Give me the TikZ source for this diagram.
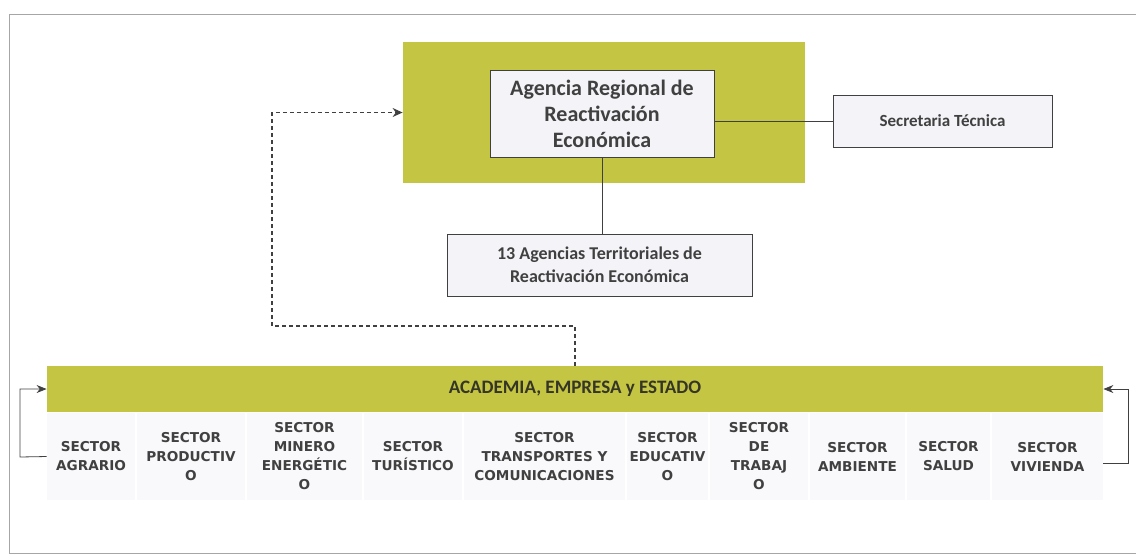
\documentclass[tikz,border=0pt]{standalone}
\usepackage{fontspec}
\setmainfont{Carlito}
\newfontfamily\sectorfont{DejaVu Sans}
\usepackage{tikz}
\usetikzlibrary{arrows.meta}

\definecolor{olive}{RGB}{197,197,68}
\definecolor{boxfill}{RGB}{243,243,248}
\definecolor{textgray}{RGB}{64,64,64}
\definecolor{cellfill}{RGB}{249,249,251}

\begin{document}
\begin{tikzpicture}[x=0.5pt,y=-0.5pt]
\useasboundingbox (0,0) rectangle (1136,559);

% Define box styles
\tikzstyle{orgbox} = [draw=textgray, fill=boxfill, thin, rectangle,
    align=center, text=textgray, inner sep=2pt]
\tikzstyle{regionbox} = [fill=olive, rectangle, inner sep=0pt]
\tikzstyle{sectorcell} = [fill=cellfill, rectangle, inner sep=1pt, align=center,
    text=textgray, minimum height=43.5pt,
    font=\sectorfont\bfseries\fontsize{6.8}{9.5}\selectfont]
\tikzstyle{link} = [draw=textgray, thin]
\tikzstyle{loop} = [draw=textgray, thin, -{Stealth[length=5pt,width=4pt]}]
\tikzstyle{dotlink} = [draw=textgray, semithick, dash pattern=on 2pt off 1.5pt,
    -{Stealth[length=5pt,width=4.5pt]}]

% frame
\draw[gray!70, thin] (1136,14) -- (9,14) -- (9,553) -- (1136,553);

\node[regionbox, minimum width=201pt, minimum height=70.5pt] (region) at (604,112.5) {};
\node[orgbox, minimum width=112pt, minimum height=43.5pt,
      font=\fontsize{11}{13}\selectfont\bfseries] (agencia) at (602,113.5)
    {Agencia Regional de\\Reactivación\\Económica};
\node[orgbox, minimum width=109.5pt, minimum height=26pt,
      font=\fontsize{8.5}{10}\selectfont\bfseries] (secretaria) at (942.5,121)
    {Secretaria Técnica};
\node[orgbox, minimum width=152.5pt, minimum height=31pt,
      font=\fontsize{9}{11.5}\selectfont\bfseries] (territoriales) at (599.5,265)
    {13 Agencias Territoriales de\\Reactivación Económica};

\draw[link] (secretaria.west) -- (secretaria.west -| agencia.east);
\draw[link] (agencia.south) -- (agencia.south |- territoriales.north);

\node[regionbox, minimum width=528pt, minimum height=23pt, text=textgray!80!olive!60!black,
      font=\fontsize{9.5}{11}\selectfont\bfseries] (academia) at (575,389)
    {ACADEMIA, EMPRESA y ESTADO};

% sectors
\node[sectorcell, minimum width=44pt] (agrario) at (91,456.5) {SECTOR\\AGRARIO};
\node[sectorcell, minimum width=54pt] (productivo) at (191,456.5) {SECTOR\\PRODUCTIV\\O};
\node[sectorcell, minimum width=57.5pt] (minero) at (304.5,456.5) {SECTOR\\MINERO\\ENERGÉTIC\\O};
\node[sectorcell, minimum width=49pt] (turistico) at (413,456.5) {SECTOR\\TURÍSTICO};
\node[sectorcell, minimum width=80.5pt] (transportes) at (544.5,456.5) {SECTOR\\TRANSPORTES Y\\COMUNICACIONES};
\node[sectorcell, minimum width=40.5pt] (educativo) at (667.5,456.5) {SECTOR\\EDUCATIV\\O};
\node[sectorcell, minimum width=49pt] (trabajo) at (759,456.5) {SECTOR\\DE\\TRABAJ\\O};
\node[sectorcell, minimum width=47.5pt] (ambiente) at (857.5,456.5) {SECTOR\\AMBIENTE};
\node[sectorcell, minimum width=41.5pt] (salud) at (948.5,456.5) {SECTOR\\SALUD};
\node[sectorcell, minimum width=55.5pt] (vivienda) at (1047.5,456.5) {SECTOR\\VIVIENDA};

\coordinate (leftturn) at (20,457);
\coordinate (rightturn) at (1128,463);
\coordinate (dotturn) at (272,326);

\draw[loop] (agrario.west) -- (leftturn) |- (academia.west);
\draw[loop] (vivienda.east |- rightturn) -- (rightturn) |- (academia.east);
\draw[dotlink] (academia.north) |- (dotturn) |- (region.west);

\end{tikzpicture}
\end{document}
